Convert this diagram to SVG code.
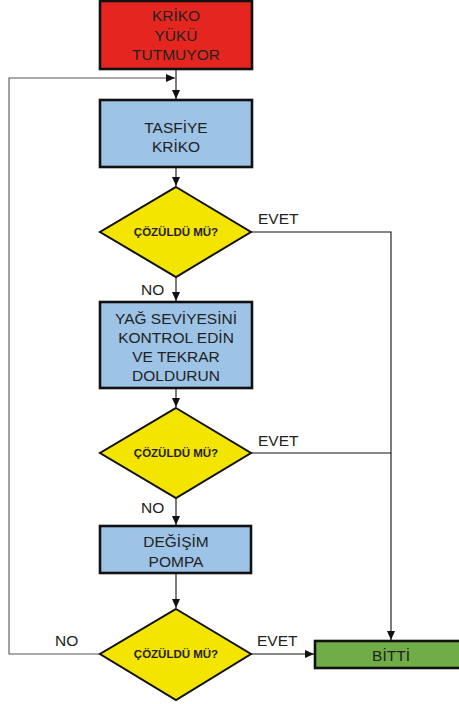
<svg xmlns="http://www.w3.org/2000/svg" width="459" height="704" viewBox="0 0 459 704">
<style>
.box{stroke:#111;stroke-width:2.6}
.dia{fill:#F3E500;stroke:#111;stroke-width:2}
.t{font-family:"Liberation Sans",Arial,sans-serif;font-size:15.5px;fill:#222;text-anchor:middle}
.d{font-family:"Liberation Sans",Arial,sans-serif;font-size:11.5px;font-weight:bold;fill:#222;text-anchor:middle}
.l{font-family:"Liberation Sans",Arial,sans-serif;font-size:15.5px;fill:#222}
.c{fill:none;stroke:#111;stroke-width:1.1}
.g{fill:none;stroke:#555;stroke-width:1.1}
</style>
<defs>
<marker id="ah" markerUnits="userSpaceOnUse" markerWidth="10" markerHeight="8" refX="9" refY="4" orient="auto">
<path d="M0,0 L9,4 L0,8 z" fill="#111"/>
</marker>
</defs>
<rect width="459" height="704" fill="#fff"/>
<g id="connectors">
<line class="c" x1="176" y1="69" x2="176" y2="99" marker-end="url(#ah)"/>
<path class="g" d="M100,654 H9 V78 H175" marker-end="url(#ah)"/>
<line class="c" x1="176" y1="167" x2="176" y2="186" marker-end="url(#ah)"/>
<line class="c" x1="176" y1="277" x2="176" y2="301" marker-end="url(#ah)"/>
<line class="c" x1="176" y1="388" x2="176" y2="407" marker-end="url(#ah)"/>
<line class="c" x1="176" y1="498" x2="176" y2="525" marker-end="url(#ah)"/>
<line class="c" x1="176" y1="573" x2="176" y2="608" marker-end="url(#ah)"/>
<line class="c" x1="251" y1="654" x2="314" y2="654" marker-end="url(#ah)"/>
<path class="c" d="M251,232 H391 V640" marker-end="url(#ah)"/>
<path class="c" d="M251,453 H391"/>
<text class="l" x="258" y="224">EVET</text>
<text class="l" x="141" y="295">NO</text>
<text class="l" x="258" y="446">EVET</text>
<text class="l" x="141" y="513">NO</text>
<text class="l" x="55" y="646">NO</text>
<text class="l" x="257" y="646">EVET</text>
</g>
<g id="start">
<rect class="box" x="100" y="1" width="152" height="68" fill="#E52620"/>
<text class="t" x="176" y="21">KRİKO</text>
<text class="t" x="176" y="40.5">YÜKÜ</text>
<text class="t" x="176" y="60">TUTMUYOR</text>
</g>
<g id="tasfiye">
<rect class="box" x="100" y="100" width="152" height="67" fill="#9DC3E6"/>
<text class="t" x="176" y="132.5">TASFİYE</text>
<text class="t" x="176" y="152">KRİKO</text>
</g>
<g id="dec1">
<polygon class="dia" points="176,187 251,232 176,277 100,232"/>
<text class="d" x="176" y="236">ÇÖZÜLDÜ MÜ?</text>
</g>
<g id="yag">
<rect class="box" x="100" y="302" width="152" height="86" fill="#9DC3E6"/>
<text class="t" x="176" y="323.5">YAĞ SEVİYESİNİ</text>
<text class="t" x="176" y="342.5">KONTROL EDİN</text>
<text class="t" x="176" y="361.5">VE TEKRAR</text>
<text class="t" x="176" y="380.5">DOLDURUN</text>
</g>
<g id="dec2">
<polygon class="dia" points="176,408 251,453 176,498 100,453"/>
<text class="d" x="176" y="457">ÇÖZÜLDÜ MÜ?</text>
</g>
<g id="pompa">
<rect class="box" x="100" y="526" width="151" height="47" fill="#9DC3E6"/>
<text class="t" x="176" y="547">DEĞİŞİM</text>
<text class="t" x="176" y="566.5">POMPA</text>
</g>
<g id="dec3">
<polygon class="dia" points="176,609 251,654 176,700 100,654"/>
<text class="d" x="176" y="658">ÇÖZÜLDÜ MÜ?</text>
</g>
<g id="bitti">
<rect class="box" x="315" y="641" width="152" height="27" fill="#70AD47"/>
<text class="t" x="391" y="661">BİTTİ</text>
</g>
</svg>
